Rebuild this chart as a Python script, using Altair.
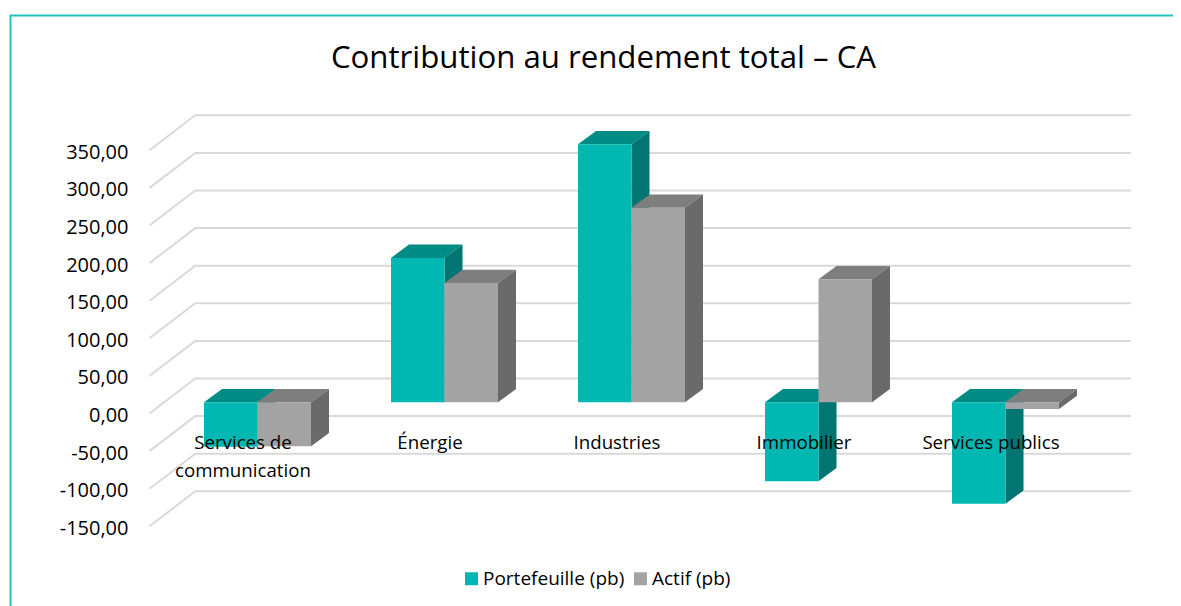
import altair as alt
import pandas as pd

# ---- values
categories = ["Services de\ncommunication", "Énergie", "Industries", "Immobilier", "Services publics"]
portefeuille = [-59, 192, 343, -105, -135]
actif = [-58.5, 158.6, 258.8, 163.6, -9]
tick_values = [350, 300, 250, 200, 150, 100, 50, 0, -50, -100, -150]
series_names = ["Portefeuille (pb)", "Actif (pb)"]
series_colors = ["#00B8B1", "#A3A3A3"]
top_colors = ["#008C85", "#7E7E7E"]
side_colors = ["#007571", "#6A6A6A"]
FONT = "Open Sans"

# ---- geometry of the pseudo 3-D projection, in scale units
W, H = 1165, 598
PX_X = 187.0      # px per category
PX_Y = 0.752      # px per value unit
X0 = 257.5        # image x of first category centre
Y0 = 413.5        # image y of value 0 on the front plane
x_dom = [(8 - X0) / PX_X, (8 + W - X0) / PX_X]
y_dom = [(Y0 - 8 - H) / PX_Y, (Y0 - 8) / PX_Y]
BAR_W = 53.5 / PX_X
BAR_DX = 18 / PX_X
BAR_DY = 13.3 / PX_Y
BAR_LIFT = (Y0 - 402.3) / PX_Y
WALL_DX = 45.7 / PX_X
WALL_DY = 35 / PX_Y
FRONT_LEFT = (149.5 - X0) / PX_X
WALL_RIGHT = (1131 - X0) / PX_X

x_scale = alt.Scale(domain=x_dom, nice=False, zero=False)
y_scale = alt.Scale(domain=y_dom, nice=False, zero=False)
y_axis = alt.Axis(
    values=tick_values,
    title=None,
    domain=False,
    ticks=False,
    grid=False,
    offset=-120,
    labelPadding=0,
    labelOffset=2,
    labelFont=FONT,
    labelFontSize=20,
    labelColor="#000000",
    labelExpr="replace(replace(format(datum.value, '.2f'), '.', ','), '\u2212', '-')",
)
X = alt.X("x:Q", scale=x_scale, axis=None)
Y = alt.Y("y:Q", scale=y_scale, stack=None, axis=y_axis)

# ---- frame
frame_df = pd.DataFrame({
    "x": [(10.5 - X0) / PX_X, (10.5 - X0) / PX_X, x_dom[1]],
    "y": [y_dom[0], (Y0 - 15.5) / PX_Y, (Y0 - 15.5) / PX_Y],
    "o": [0, 1, 2],
})
frame = alt.Chart(frame_df).mark_line(color="#20C4BC", strokeWidth=2).encode(
    x=X, y=Y, order="o:Q"
)

# ---- gridlines (floor diagonal + wall)
rows = []
for v in tick_values:
    rows += [
        {"t": v, "o": 0, "x": FRONT_LEFT, "y": v},
        {"t": v, "o": 1, "x": FRONT_LEFT + WALL_DX, "y": v + WALL_DY},
        {"t": v, "o": 2, "x": WALL_RIGHT, "y": v + WALL_DY},
    ]
grid = alt.Chart(pd.DataFrame(rows)).mark_line(color="#D9D9D9", strokeWidth=2).encode(
    x=X, y=Y, detail="t:N", order="o:Q"
)


def bar_layers(values, idx):
    """Top, side and front faces of one series."""
    start = [i - BAR_W + idx * BAR_W for i in range(len(values))]
    top_rows, side_rows, front_rows = [], [], []
    for i, (x0, v) in enumerate(zip(start, values)):
        x1 = x0 + BAR_W
        hi = max(v, 0) + BAR_LIFT
        lo = min(v, 0) + BAR_LIFT
        front_rows.append({"x": x0, "x2": x1, "y": hi, "y2": lo, "s": series_names[idx]})
        top_rows += [
            {"f": i, "x": x0, "y": hi, "y2": hi},
            {"f": i, "x": x0 + BAR_DX, "y": hi, "y2": hi + BAR_DY},
            {"f": i, "x": x1, "y": hi, "y2": hi + BAR_DY},
            {"f": i, "x": x1 + BAR_DX, "y": hi + BAR_DY, "y2": hi + BAR_DY},
        ]
        side_rows += [
            {"f": i, "x": x1, "y": lo, "y2": hi},
            {"f": i, "x": x1 + BAR_DX, "y": lo + BAR_DY, "y2": hi + BAR_DY},
        ]
    top = alt.Chart(pd.DataFrame(top_rows)).mark_area(color=top_colors[idx], interpolate="linear").encode(
        x=X, y=Y, y2="y2:Q", detail="f:N"
    )
    side = alt.Chart(pd.DataFrame(side_rows)).mark_area(color=side_colors[idx], interpolate="linear").encode(
        x=X, y=Y, y2="y2:Q", detail="f:N"
    )
    front = alt.Chart(pd.DataFrame(front_rows)).mark_rect().encode(
        x=X,
        x2="x2:Q",
        y=alt.Y("y:Q", scale=y_scale, axis=y_axis),
        y2="y2:Q",
        color=alt.Color(
            "s:N",
            scale=alt.Scale(domain=series_names, range=series_colors),
            sort=series_names,
            legend=alt.Legend(
                title=None,
                orient="none",
                legendX=454,
                legendY=561,
                direction="horizontal",
                symbolType="square",
                symbolSize=169,
                symbolStrokeWidth=0,
                labelFont=FONT,
                labelFontSize=19,
                labelColor="#000000",
                labelOffset=2,
                columnPadding=6,
            ),
        ),
    )
    return [top, side, front]


# ---- category labels
label_df = pd.DataFrame({
    "x": [i - 14.5 / PX_X for i in range(len(categories))],
    "y": [(Y0 - 449) / PX_Y] * len(categories),
    "label": categories,
})
labels = alt.Chart(label_df).mark_text(
    font=FONT, fontSize=18.7, color="#000000", align="center", baseline="alphabetic",
    lineBreak="\n", lineHeight=28,
).encode(x=X, y=alt.Y("y:Q", scale=y_scale, axis=y_axis), text="label:N")

chart = alt.layer(
    frame, grid,
    *bar_layers(portefeuille, 0),
    *bar_layers(actif, 1),
    labels,
).properties(
    width=W,
    height=H,
    padding=0,
    autosize=alt.AutoSizeParams(type="none"),
    title=alt.TitleParams(
        "Contribution au rendement total – CA",
        font=FONT,
        fontSize=31.2,
        fontWeight="normal",
        color="#000000",
        anchor="middle",
        dx=13,
        dy=66,
        offset=0,
    ),
    background="#FFFFFF",
).configure_view(strokeWidth=0)

chart.save("out.html", embed_options={"renderer": "svg", "actions": False})
